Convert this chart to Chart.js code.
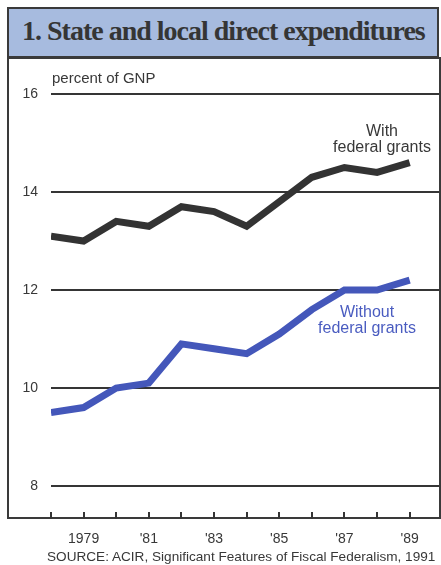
<!DOCTYPE html>
<html>
<head>
<meta charset="utf-8">
<script src="https://cdn.jsdelivr.net/npm/chart.js@4/dist/chart.umd.min.js"></script>
<style>
  body { margin: 0; background: #fff; }
  #wrap { position: relative; width: 441px; height: 565px; overflow: hidden; font-family: "Liberation Sans", Arial, sans-serif; color: #383838; }
  #titlebar { position: absolute; left: 7px; top: 7px; width: 428px; height: 47px; background: #a7bbdf; border: 2px solid #3a3a3a; border-bottom-width: 3px; }
  #titlebar span { position: absolute; left: 13px; top: 6px; font: bold 28px "Liberation Serif", "DejaVu Serif", serif; letter-spacing: -1px; color: #353535; white-space: nowrap; }
  #frame { position: absolute; left: 7px; top: 57px; width: 430px; height: 460px; border-left: 2px solid #3a3a3a; border-right: 2px solid #3a3a3a; border-bottom: 2px solid #3a3a3a; }
  canvas { position: absolute; left: 0; top: 0; }
  .note { position: absolute; font-size: 16px; line-height: 16px; text-align: center; white-space: nowrap; }
  #unit { position: absolute; left: 52px; top: 69px; font-size: 15px; }
  #source { position: absolute; left: 47px; top: 549px; font-size: 13.6px; white-space: nowrap; }
</style>
</head>
<body>
<div id="wrap">
  <div id="titlebar"><span>1. State and local direct expenditures</span></div>
  <div id="frame"></div>
  <canvas id="chart" width="441" height="565"></canvas>
  <div id="unit">percent of GNP</div>
  <div class="note" style="left:332px; top:123px; width:100px;">With<br>federal grants</div>
  <div class="note" style="left:317px; top:304px; width:100px; color:#4a5cc0;">Without<br>federal grants</div>
  <div id="source">SOURCE: ACIR, Significant Features of Fiscal Federalism, 1991</div>
</div>
<script>
const years = [1978, 1979, 1980, 1981, 1982, 1983, 1984, 1985, 1986, 1987, 1988, 1989];
const withGrants = [13.1, 13.0, 13.4, 13.3, 13.7, 13.6, 13.3, 13.8, 14.3, 14.5, 14.4, 14.6];
const withoutGrants = [9.5, 9.6, 10.0, 10.1, 10.9, 10.8, 10.7, 11.1, 11.6, 12.0, 12.0, 12.2];
const yTicks = [8, 10, 12, 14, 16];

const ink = '#353535';

const ctx = document.getElementById('chart').getContext('2d');

new Chart(ctx, {
  type: 'line',
  data: {
    datasets: [{
      label: 'With federal grants',
      data: years.map((y, i) => ({ x: y, y: withGrants[i] })),
      borderColor: '#333333',
      borderWidth: 7,
      pointRadius: 0,
      tension: 0
    }, {
      label: 'Without federal grants',
      data: years.map((y, i) => ({ x: y, y: withoutGrants[i] })),
      borderColor: '#4457ba',
      borderWidth: 7,
      pointRadius: 0,
      tension: 0
    }]
  },
  options: {
    responsive: false,
    animation: false,
    layout: { padding: { top: 94, right: 2, left: 0, bottom: 0 } },
    plugins: {
      legend: { display: false },
      title: { display: false },
      tooltip: { enabled: false }
    },
    scales: {
      x: {
        type: 'linear',
        min: 1978,
        max: 1989.9,
        afterBuildTicks: s => { s.ticks = years.map(v => ({ value: v })); },
        afterFit: s => { s.height = 53; },
        border: { display: false },
        grid: { drawOnChartArea: false, tickLength: 7, color: ink, lineWidth: 2 },
        ticks: {
          padding: 12,
          color: '#383838',
          font: { family: 'Liberation Sans', size: 14 },
          maxRotation: 0,
          autoSkip: false,
          callback: v => {
            if (v % 2 === 0) return '';
            return v === 1979 ? '1979' : "'" + String(v).slice(2);
          }
        }
      },
      y: {
        min: 7.469,
        max: 16,
        afterBuildTicks: s => { s.ticks = yTicks.map(v => ({ value: v })); },
        afterFit: s => { s.width = 51; },
        border: { display: false },
        grid: { drawTicks: false, color: ink, lineWidth: 2 },
        ticks: {
          padding: 13,
          color: '#383838',
          font: { family: 'Liberation Sans', size: 14 }
        }
      }
    }
  }
});
</script>
</body>
</html>
